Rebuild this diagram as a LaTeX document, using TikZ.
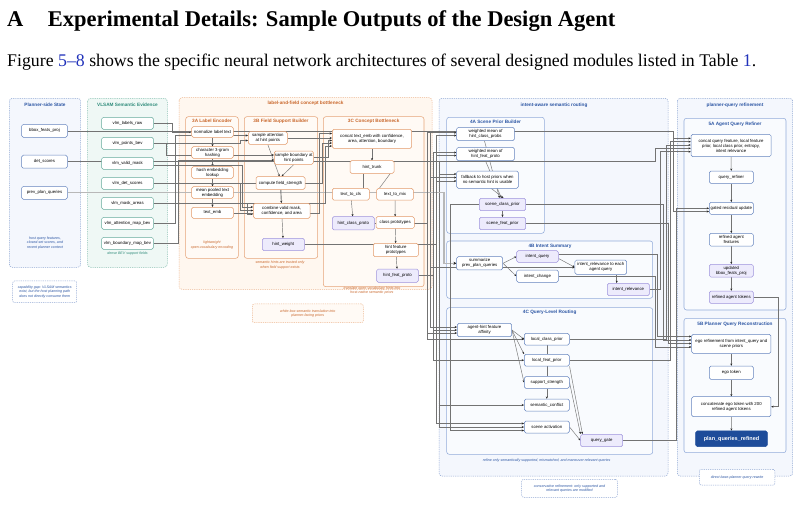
\documentclass[tikz,border=0pt]{standalone}
\usepackage{fontspec}
\setmainfont{Liberation Serif}
\setsansfont{Liberation Sans}
\usetikzlibrary{arrows.meta,calc}
\pgfdeclarelayer{bg}\pgfdeclarelayer{edges}
\pgfsetlayers{bg,edges,main}
\definecolor{pblue}{HTML}{2B55A3}
\definecolor{pbord}{HTML}{8FA7D3}
\definecolor{pfill}{HTML}{F4F7FD}
\definecolor{nblue}{HTML}{6584BE}
\definecolor{tteal}{HTML}{2E8B7A}
\definecolor{tbord}{HTML}{86BFB1}
\definecolor{tfill}{HTML}{EFF8F5}
\definecolor{nteal}{HTML}{66AB9D}
\definecolor{oorg}{HTML}{C9672B}
\definecolor{obord}{HTML}{EDB58D}
\definecolor{ofill}{HTML}{FFF7EF}
\definecolor{norg}{HTML}{E29A6A}
\definecolor{ibord}{HTML}{E6A57A}
\definecolor{iofill}{HTML}{FFFAF5}
\definecolor{bibord}{HTML}{93ACDA}
\definecolor{bifill}{HTML}{F9FBFE}
\definecolor{purfill}{HTML}{EDEBFC}
\definecolor{purbord}{HTML}{9E93DC}
\definecolor{darkq}{HTML}{1E4C9A}
\definecolor{linkblue}{HTML}{2233BB}
\tikzset{
  basenode/.style={rounded corners=1.6pt, line width=0.5pt, inner sep=0.3pt, align=center,
    font=\sffamily\fontsize{4.3}{5}\selectfont, fill=white},
  wh/.style 2 args={minimum width=#1pt, minimum height=#2pt},
  bnode/.style={basenode, draw=nblue},
  tnode/.style={basenode, draw=nteal},
  onode/.style={basenode, draw=norg},
  pnode/.style={basenode, draw=purbord, fill=purfill},
  grpb/.style={draw=pbord, fill=pfill, dash pattern=on 1.2pt off 1pt, line width=0.5pt, rounded corners=3pt},
  grpt/.style={draw=tbord, fill=tfill, dash pattern=on 1.2pt off 1pt, line width=0.5pt, rounded corners=3pt},
  grpo/.style={draw=obord, fill=ofill, dash pattern=on 1.2pt off 1pt, line width=0.5pt, rounded corners=3pt},
  inno/.style={draw=ibord, fill=iofill, line width=0.55pt, rounded corners=2.5pt},
  innb/.style={draw=bibord, fill=bifill, line width=0.55pt, rounded corners=2.5pt},
  gtitle/.style={font=\sffamily\bfseries\fontsize{4.7}{5.5}\selectfont, inner sep=0pt},
  notetxt/.style={font=\sffamily\itshape\fontsize{3.6}{4.3}\selectfont, align=center, inner sep=0pt},
  notebox/.style={notetxt, dash pattern=on 1.2pt off 1pt, line width=0.5pt, rounded corners=2pt},
  ln/.style={draw=black!55, line width=0.45pt},
  ar/.style={ln, -{Stealth[length=2.3pt,width=2pt,color=black!85]}},
  thk/.style={draw=black!28, line width=1.3pt, -{Stealth[length=3pt,width=3pt,color=black!85]}}
}
\begin{document}
\begin{tikzpicture}[x=1pt,y=-1pt]
\useasboundingbox (0,0) rectangle (799,504);
% ---------- title ----------
\node[anchor=base west, inner sep=0pt, font=\fontsize{22.5}{26}\selectfont\bfseries] (tA) at (7,26) {A};
\node[anchor=base west, inner sep=0pt, font=\fontsize{22.5}{26}\selectfont\bfseries] (tT) at (47.7,26) {Experimental Details: Sample Outputs of the Design Agent};
\node[anchor=base west, inner sep=0pt, font=\fontsize{17.8}{21}\selectfont] (cap) at (7,66) {Figure \textcolor{linkblue}{5}\textcolor{linkblue}{--}\textcolor{linkblue}{8} shows the specific neural network architectures of several designed modules listed in Table \textcolor{linkblue}{1}.};
% ---------- group titles ----------
\node[gtitle, text=pblue] (gt1) at (45,105) {Planner-side State};
\node[gtitle, text=tteal] (gt2) at (127.5,105) {VLSAM Semantic Evidence};
\node[gtitle, text=oorg] (gt3) at (305.5,103.3) {label-and-field concept bottleneck};
\node[gtitle, text=oorg] (gt3a) at (212,121) {3A Label Encoder};
\node[gtitle, text=oorg] (gt3b) at (281,121) {3B Field Support Builder};
\node[gtitle, text=oorg] (gt3c) at (373.7,121) {3C Concept Bottleneck};
\node[gtitle, text=pblue] (gt4) at (554,105) {intent-aware semantic routing};
\node[gtitle, text=pblue] (gt4a) at (495.5,122.3) {4A Scene Prior Builder};
\node[gtitle, text=pblue] (gt4b) at (550,246) {4B Intent Summary};
\node[gtitle, text=pblue] (gt4c) at (549.7,312.7) {4C Query-Level Routing};
\node[gtitle, text=pblue] (gt5) at (735,105) {planner-query refinement};
\node[gtitle, text=pblue] (gt5a) at (735,124.3) {5A Agent Query Refiner};
\node[gtitle, text=pblue] (gt5b) at (735,324.3) {5B Planner Query Reconstruction};
% ---------- notes ----------
\node[notetxt, text=pblue] (n1) at (45,243) {host query features,\\closed-set scores, and\\recent planner context};
\node[notetxt, text=tteal] (n2) at (127.5,253.7) {dense BEV support fields};
\node[notebox, draw=pbord, fill=white, text=pblue, minimum width=64pt, minimum height=21.7pt] (n3) at (44.7,291.8) {capability gap: VLSAM semantics\\exist, but the host planning path\\does not directly consume them};
\node[notetxt, text=oorg] (n4) at (212,245) {lightweight\\open-vocabulary encoding};
\node[notetxt, text=oorg] (n5) at (280,265) {semantic hints are trusted only\\when field support exists};
\node[notetxt, text=oorg] (n6) at (372,290.5) {translate open-vocabulary hints into\\host-native semantic priors};
\node[notebox, draw=obord, fill=iofill, text=oorg, minimum width=111pt, minimum height=18.7pt] (n7) at (307.8,313.3) {white-box semantic translation into\\planner-facing priors};
\node[notetxt, text=pblue] (n8) at (546.7,460.7) {refine only semantically supported, mismatched, and maneuver-relevant queries};
\node[notebox, draw=pbord, fill=white, text=pblue, minimum width=95.6pt, minimum height=18pt] (n9) at (569.5,488.3) {conservative refinement: only supported and\\relevant queries are modified};
\node[notebox, draw=pbord, fill=white, text=pblue, minimum width=75.7pt, minimum height=15.7pt] (n10) at (737.1,477.2) {direct base-planner query rewrite};
% ---------- planner-side ----------
\node[bnode, wh={45.6}{13}] (bbox) at (44.5,130.8) {bbox\_feats\_proj};
\node[bnode, wh={45.6}{13}] (dets) at (44.5,161.7) {det\_scores};
\node[bnode, wh={45.6}{13}] (prevq) at (44.5,192.8) {prev\_plan\_queries};
% ---------- VLSAM ----------
\node[tnode, wh={51.6}{12}] (vlab) at (127.5,123.3) {vlm\_labels\_raw};
\node[tnode, wh={51.6}{12}] (vpts) at (127.5,143.3) {vlm\_points\_bev};
\node[tnode, wh={51.6}{12}] (vvalid) at (127.5,163.3) {vlm\_valid\_mask};
\node[tnode, wh={51.6}{12}] (vdet) at (127.5,183.3) {vlm\_det\_scores};
\node[tnode, wh={51.6}{12}] (varea) at (127.5,203.3) {vlm\_mask\_areas};
\node[tnode, wh={51.6}{12}] (vatt) at (127.5,223.3) {vlm\_attention\_map\_bev};
\node[tnode, wh={51.6}{12}] (vbnd) at (127.5,243.3) {vlm\_boundary\_map\_bev};
% ---------- 3A ----------
\node[onode, wh={41.7}{10.6}] (norm) at (212.5,132) {normalize label text};
\node[onode, wh={41.7}{11.6}] (gram) at (212.5,152.5) {character 3-gram\\hashing};
\node[onode, wh={41.7}{11.6}] (hash) at (212.5,172.5) {hash embedding\\lookup};
\node[onode, wh={41.7}{11.6}] (pool) at (212.5,192.5) {mean pooled text\\embedding};
\node[onode, wh={41.7}{11}] (temb) at (212.5,212.8) {text\_emb};
% ---------- 3B ----------
\node[onode, wh={39}{12.6}] (satt) at (267.8,138) {sample attention\\at hint points};
\node[onode, wh={39}{13.3}] (sbnd) at (293.8,157.7) {sample boundary at\\hint points};
\node[onode, wh={49}{12.6}] (fstr) at (280.5,183) {compute field\_strength};
\node[onode, wh={56.7}{15}] (comb) at (281.7,210.8) {combine valid mask,\\confidence, and area};
\node[pnode, wh={42}{12.4}] (hw) at (283.3,244.5) {hint\_weight};
% ---------- 3C ----------
\node[onode, wh={79.4}{19}] (cat3) at (372,138.8) {concat text\_emb with confidence,\\area, attention, boundary};
\node[onode, wh={44}{12.6}] (trunk) at (372,167) {hint\_trunk};
\node[onode, wh={37}{11.7}] (tcls) at (350.8,194.2) {text\_to\_cls};
\node[onode, wh={36.6}{11.7}] (tmix) at (395,194.2) {text\_to\_mix};
\node[pnode, wh={42}{13.3}] (hcp) at (353.3,223.3) {hint\_class\_proto};
\node[onode, wh={38.3}{11.7}] (cproto) at (395.2,222.5) {class prototypes};
\node[onode, wh={45}{13.3}] (hfp2) at (395.8,250) {hint feature\\prototypes};
\node[pnode, wh={41.6}{13.3}] (hfp) at (397.5,275.7) {hint\_feat\_proto};
% ---------- 4A ----------
\node[bnode, wh={57.6}{13.4}] (wcls) at (485.5,134) {weighted mean of\\hint\_class\_probs};
\node[bnode, wh={57.6}{13.4}] (wfeat) at (485.5,154) {weighted mean of\\hint\_feat\_proto};
\node[bnode, wh={61.6}{17.3}] (fb) at (487.5,179.7) {fallback to host priors when\\no semantic hint is usable};
\node[pnode, wh={46.4}{12.4}] (scp) at (502.5,204.5) {scene\_class\_prior};
\node[pnode, wh={46.4}{12.4}] (sfp) at (502.5,223.5) {scene\_feat\_prior};
% ---------- 4B ----------
\node[bnode, wh={46}{13.3}] (summ) at (479.7,263.3) {summarize\\prev\_plan\_queries};
\node[pnode, wh={41.6}{11.6}] (iq) at (537.5,256.5) {intent\_query};
\node[bnode, wh={41.6}{12.3}] (ich) at (537.5,276.2) {intent\_change};
\node[bnode, wh={51.7}{14.3}] (irel2) at (600.8,267.2) {intent\_relevance to each\\agent query};
\node[pnode, wh={42}{12.4}] (irel) at (628.3,289.5) {intent\_relevance};
% ---------- 4C ----------
\node[bnode, wh={54.4}{13.4}] (aff) at (484.5,330) {agent-hint feature\\affinity};
\node[bnode, wh={45}{11.7}] (lcp) at (546.8,339.2) {local\_class\_prior};
\node[bnode, wh={45}{11.7}] (lfp) at (546.8,360.2) {local\_feat\_prior};
\node[bnode, wh={45}{11.7}] (ss) at (546.8,382.5) {support\_strength};
\node[bnode, wh={45}{12}] (sc) at (546.8,405) {semantic\_conflict};
\node[bnode, wh={45}{12}] (sa) at (546.8,427) {scene activation};
\node[pnode, wh={42}{12.4}] (qg) at (601.7,440.5) {query\_gate};
% ---------- 5A ----------
\node[bnode, wh={80}{22.4}] (cat5) at (731,145.5) {concat query feature, local feature\\prior, local class prior, entropy,\\intent relevance};
\node[bnode, wh={44}{12.3}] (qr) at (731.3,177.2) {query\_refiner};
\node[bnode, wh={44}{12}] (gru) at (731.3,208.3) {gated residual update};
\node[bnode, wh={44}{12.7}] (raf) at (731.3,239.7) {refined agent\\features};
\node[pnode, wh={44}{12.7}] (ubf) at (731.3,270.7) {updated\\bbox\_feats\_proj};
\node[pnode, wh={44}{12.3}] (rat) at (731.3,297.2) {refined agent tokens};
% ---------- 5B ----------
\node[bnode, wh={79.3}{19}] (ego) at (731.3,343.8) {ego refinement from intent\_query and\\scene priors};
\node[bnode, wh={44}{13.3}] (egot) at (731.3,372.7) {ego token};
\node[bnode, wh={79.3}{20}] (cat5b) at (731.3,406.7) {concatenate ego token with 200\\refined agent tokens};
\node[basenode, fill=darkq, draw=darkq, text=white, wh={71.6}{15.7}, font=\sffamily\bfseries\fontsize{5.5}{6.5}\selectfont] (pqr) at (731.5,438.8) {plan\_queries\_refined};
% ---------- group boxes ----------
\begin{pgfonlayer}{bg}
\fill[white] (0,0) rectangle (799,504);
\draw[grpb] (9.3,98.3) rectangle (80.7,267.3);
\draw[grpt] (87.7,98.3) rectangle (167.3,267.3);
\draw[grpo] (179,97.7) rectangle (432,289.3);
\draw[inno] (185.7,116.7) rectangle (238.3,258.3);
\draw[inno] (244.3,116.7) rectangle (317.7,258.3);
\draw[inno] (323.3,116.7) rectangle (424,286.7);
\draw[grpb] (439,98.3) rectangle (668,476);
\draw[innb] (446.7,117.3) rectangle (544.3,233.3);
\draw[innb] (446.7,241) rectangle (652.7,298.3);
\draw[innb] (446.7,307.7) rectangle (652.7,454.3);
\draw[grpb] (677.3,98.3) rectangle (792.7,476);
\draw[innb] (684,118.3) rectangle (786,310);
\draw[innb] (684,318.3) rectangle (786,452.7);
\end{pgfonlayer}
% ---------- connectors ----------
\begin{pgfonlayer}{edges}
% label encoder
\draw[ar] (vlab.east) -| (172,132) -- (norm.west);
\foreach \a/\b in {norm/gram,gram/hash,hash/pool,pool/temb} \draw[ar] (\a) -- (\b);
% bbox_feats_proj
\draw[ar] (bbox.east) -- (673,130.8) |- (cat5.west |- 0,138.3);
\draw[ar] (bbox.east) -- (673,130.8) |- (gru.west |- 0,211.5);
\draw[ar] (bbox.east) -- (430,130.8) |- (aff.west |- 0,327);
\draw[ar] (bbox.east) -- (430,130.8) |- (fb.west |- 0,177.5);
\draw[ar] (bbox.east) -- (430,130.8) |- (irel2.west |- 0,267.5);
% det_scores
\draw[ar] (dets.east) -- (655,161.7) |- (cat5.west |- 0,148.3);
\draw[ar] (dets.east) -- (439,161.7) |- (fb.west |- 0,174);
\draw[ar] (dets.east) -- (439,161.7) |- (sc.west);
\draw[ar] (dets.east) -- (439,161.7) |- (sa.west |- 0,427);
% prev_plan_queries
\draw[thk] (prevq.east) -- (444,192.8) |- (summ.west);
% VLSAM fields
\draw[ar] (vpts.east) -- (240,143.3) |- (satt.west |- 0,140.5);
\draw[ar] (vpts.east) -- (166,143.3) |- (sbnd.west |- 0,155);
\draw[ar] (vatt.east) -- (175,223.3) |- (satt.west |- 0,135.5);
\draw[ar] (vbnd.east) -- (178,243.3) |- (sbnd.west |- 0,160);
\draw[ar] (vvalid.east |- 0,165.5) -- (242.5,165.5) |- (comb.west |- 0,207);
\draw[ar] (vdet.east) -- (240.5,183.3) |- (comb.west |- 0,210.5);
\draw[ar] (vdet.east) -- (322,183.3) |- (cat3.west |- 0,143);
\draw[ar] (varea.east) -- (247.5,203.3) |- (comb.west |- 0,214);
\draw[ar] (varea.east) -- (325.5,203.3) |- (cat3.west |- 0,146);
\draw[ar] (temb.east) -- (319.5,212.8) |- (cat3.west |- 0,133.5);
\draw[ar] (satt.east) -- (cat3.west |- satt.east);
\draw[ar] (sbnd.east) -- (328.5,157.7) |- (cat3.west |- 0,140.5);
% field support builder
\draw[ar] (satt.south) -- ([xshift=-1pt]fstr.north);
\draw[ar] (sbnd.south) -- ([xshift=1pt]fstr.north);
\draw[ar, line width=0.9pt] (fstr) -- (comb);
\draw[ar] (comb) -- (hw);
% concept bottleneck
\draw[ar] (cat3) -- (trunk);
\draw[ln] (trunk.south -| 363.3,0) -- (tcls.north -| 363.3,0);
\draw[ln] ([xshift=-4pt]trunk.south east) -- ([xshift=3pt]tmix.north west);
\draw[ar] (tcls) -- (hcp);
\draw[ar] (tmix) -- (cproto);
\draw[ar] (cproto) -- (hfp2);
\draw[ar] (hfp2) -- (hfp);
% hint outputs into routing
\draw[ar] (hcp.east) -- (427,223.3) |- (wcls.west |- 0,132.7);
\draw[ar] (hcp.east) -- (427,223.3) |- (aff.west |- 0,333);
\draw[ar] (hcp.east) -- (427,223.3) |- (lcp.west);
\draw[ar] (hw.east) -- (436,244.5) |- (wcls.west |- 0,135.5);
\draw[ar] (hw.east) -- (436,244.5) |- (wfeat.west |- 0,155.5);
\draw[ar] (hw.east) -- (436,244.5) |- (fb.west |- 0,181);
\draw[ar] (hw.east) -- (436,244.5) |- (sa.west |- 0,423.5);
\draw[ar] (hfp.east) -- (433,275.7) |- (wfeat.west |- 0,152.5);
\draw[ar] (hfp.east) -- (433,275.7) |- (aff.west |- 0,330);
\draw[ar] (hfp.east) -- (433,275.7) |- (lfp.west);
\draw[ar] (scp.west) -- (450,204.5) |- (sa.west |- 0,430.5);
% scene prior builder
\draw[ar] ([xshift=-1pt]wcls.south) -- ([xshift=-3pt]scp.north);
\draw[ar] (wfeat.south) -- ([xshift=-1pt]scp.north);
\draw[ar] ([xshift=4pt]fb.south) -- ([xshift=1pt]scp.north);
\draw[ar] (scp) -- (sfp);
% intent summary
\draw[ar] (summ.east) -- (iq.west);
\draw[ar] (summ.east) -- (ich.west);
\draw[ar] ([yshift=-2pt]iq.east) -- (irel2.west);
\draw[ar] (irel2.south -| 616.7,0) -- (irel.north -| 616.7,0);
% query-level routing
\draw[ar] (aff.east) -- (lcp.west);
\draw[ar] (aff.east) -- (lfp.north west);
\draw[ar] (aff.east) -- (ss.west);
\draw[ln] (lcp) -- (lfp);
\draw[ln] (lfp) -- (ss);
\draw[ar] (ss) -- (sc);
\draw[ar] (ss.east) -- (qg.north west);
\draw[ar] (lfp.south east) -- ([xshift=2pt]qg.north west);
\draw[ar] (sa.east) -- (qg.west);
% into refinement
\draw[ar] (lfp.east) -- (670,360.2) |- (cat5.west |- 0,141.7);
\draw[ar] (lcp.east) -- (666,339.2) |- (cat5.west |- 0,145);
\draw[ar] (irel.east) -- (660,289.5) |- (cat5.west |- 0,151.7);
\draw[ar] (qg.east) -- (676,440.5) |- (gru.west);
\draw[ar] ([yshift=2pt]iq.east) -- (657,254.5) |- (ego.west |- 0,336.5);
\draw[ar] (scp.east) -- (663,204.5) |- (ego.west |- 0,340);
\draw[ar] (sfp.east) -- (668.5,223.5) |- (ego.west |- 0,343.5);
\draw[ar] (ich.east) -- (655,276.2) |- (ego.west |- 0,347);
% refinement chains
\foreach \a/\b in {cat5/qr,qr/gru,gru/raf,raf/ubf,ubf/rat,ego/egot,egot/cat5b,cat5b/pqr} \draw[ar] (\a) -- (\b);
\draw[ar] (rat.east) -- (778.3,297.2) |- (cat5b.east);
\end{pgfonlayer}
\end{tikzpicture}
\end{document}
